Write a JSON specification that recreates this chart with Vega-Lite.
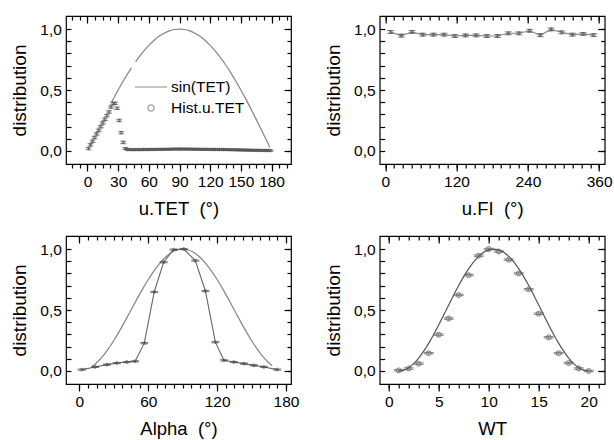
{
  "$schema": "https://vega.github.io/schema/vega-lite/v6.json",
  "padding": {"left": 9, "top": 14, "right": 0, "bottom": 0},
  "columns": 2,
  "bounds": "flush",
  "spacing": {"row": 72, "column": 88.7},
  "datasets": {
    "sin1": [
      {"x": 23.5, "y": 0.399, "seg": 1}, {"x": 28, "y": 0.469, "seg": 1}, {"x": 33, "y": 0.545, "seg": 1}, {"x": 38, "y": 0.616, "seg": 1}, {"x": 43, "y": 0.682, "seg": 1},
      {"x": 47, "y": 0.731, "seg": 2}, {"x": 50, "y": 0.766, "seg": 2}, {"x": 55, "y": 0.819, "seg": 2}, {"x": 60, "y": 0.866, "seg": 2}, {"x": 65, "y": 0.906, "seg": 2},
      {"x": 70, "y": 0.94, "seg": 2}, {"x": 75, "y": 0.966, "seg": 2}, {"x": 80, "y": 0.985, "seg": 2}, {"x": 85, "y": 0.996, "seg": 2}, {"x": 90, "y": 1.0, "seg": 2},
      {"x": 95, "y": 0.996, "seg": 2}, {"x": 100, "y": 0.985, "seg": 2}, {"x": 105, "y": 0.966, "seg": 2}, {"x": 110, "y": 0.94, "seg": 2}, {"x": 115, "y": 0.906, "seg": 2},
      {"x": 120, "y": 0.866, "seg": 2}, {"x": 125, "y": 0.819, "seg": 2}, {"x": 130, "y": 0.766, "seg": 2}, {"x": 135, "y": 0.707, "seg": 2}, {"x": 140, "y": 0.643, "seg": 2},
      {"x": 145, "y": 0.574, "seg": 2}, {"x": 150, "y": 0.5, "seg": 2}, {"x": 155, "y": 0.423, "seg": 2}, {"x": 160, "y": 0.342, "seg": 2}, {"x": 165, "y": 0.259, "seg": 2},
      {"x": 170, "y": 0.174, "seg": 2}, {"x": 175, "y": 0.087, "seg": 2}, {"x": 178.4, "y": 0.028, "seg": 2}
    ],
    "hist1": [
      {"x": 1, "y": 0.02, "e": 0.01}, {"x": 3, "y": 0.05, "e": 0.01}, {"x": 5, "y": 0.08, "e": 0.01}, {"x": 7, "y": 0.11, "e": 0.01}, {"x": 9, "y": 0.14, "e": 0.01},
      {"x": 11, "y": 0.17, "e": 0.01}, {"x": 13, "y": 0.2, "e": 0.01}, {"x": 15, "y": 0.23, "e": 0.01}, {"x": 17, "y": 0.26, "e": 0.01}, {"x": 19, "y": 0.29, "e": 0.01},
      {"x": 21, "y": 0.32, "e": 0.01}, {"x": 23, "y": 0.36, "e": 0.01}, {"x": 25, "y": 0.39, "e": 0.01}, {"x": 27, "y": 0.39, "e": 0.01}, {"x": 29, "y": 0.35, "e": 0.01},
      {"x": 31, "y": 0.25, "e": 0.01}, {"x": 33, "y": 0.15, "e": 0.01}, {"x": 35, "y": 0.07, "e": 0.01}, {"x": 37, "y": 0.02, "e": 0.008},
      {"x": 39, "y": 0.012, "e": 0.006}, {"x": 41, "y": 0.011, "e": 0.006}, {"x": 43, "y": 0.01, "e": 0.006}, {"x": 45, "y": 0.01, "e": 0.006}, {"x": 47, "y": 0.011, "e": 0.006},
      {"x": 49, "y": 0.01, "e": 0.006}, {"x": 51, "y": 0.01, "e": 0.006}, {"x": 53, "y": 0.011, "e": 0.006}, {"x": 55, "y": 0.012, "e": 0.006}, {"x": 57, "y": 0.011, "e": 0.006},
      {"x": 59, "y": 0.012, "e": 0.006}, {"x": 61, "y": 0.012, "e": 0.006}, {"x": 63, "y": 0.013, "e": 0.006}, {"x": 65, "y": 0.012, "e": 0.006}, {"x": 67, "y": 0.013, "e": 0.006},
      {"x": 69, "y": 0.013, "e": 0.006}, {"x": 71, "y": 0.014, "e": 0.006}, {"x": 73, "y": 0.013, "e": 0.006}, {"x": 75, "y": 0.014, "e": 0.006}, {"x": 77, "y": 0.014, "e": 0.006},
      {"x": 79, "y": 0.015, "e": 0.006}, {"x": 81, "y": 0.014, "e": 0.006}, {"x": 83, "y": 0.015, "e": 0.006}, {"x": 85, "y": 0.016, "e": 0.006}, {"x": 87, "y": 0.015, "e": 0.006},
      {"x": 89, "y": 0.016, "e": 0.006}, {"x": 91, "y": 0.016, "e": 0.006}, {"x": 93, "y": 0.015, "e": 0.006}, {"x": 95, "y": 0.016, "e": 0.006}, {"x": 97, "y": 0.015, "e": 0.006},
      {"x": 99, "y": 0.016, "e": 0.006}, {"x": 101, "y": 0.015, "e": 0.006}, {"x": 103, "y": 0.015, "e": 0.006}, {"x": 105, "y": 0.014, "e": 0.006}, {"x": 107, "y": 0.015, "e": 0.006},
      {"x": 109, "y": 0.014, "e": 0.006}, {"x": 111, "y": 0.014, "e": 0.006}, {"x": 113, "y": 0.013, "e": 0.006}, {"x": 115, "y": 0.014, "e": 0.006}, {"x": 117, "y": 0.013, "e": 0.006},
      {"x": 119, "y": 0.013, "e": 0.006}, {"x": 121, "y": 0.012, "e": 0.006}, {"x": 123, "y": 0.013, "e": 0.006}, {"x": 125, "y": 0.012, "e": 0.006}, {"x": 127, "y": 0.012, "e": 0.006},
      {"x": 129, "y": 0.011, "e": 0.006}, {"x": 131, "y": 0.012, "e": 0.006}, {"x": 133, "y": 0.011, "e": 0.006}, {"x": 135, "y": 0.011, "e": 0.006}, {"x": 137, "y": 0.01, "e": 0.006},
      {"x": 139, "y": 0.01, "e": 0.006}, {"x": 141, "y": 0.01, "e": 0.006}, {"x": 143, "y": 0.009, "e": 0.006}, {"x": 145, "y": 0.009, "e": 0.006}, {"x": 147, "y": 0.009, "e": 0.006},
      {"x": 149, "y": 0.008, "e": 0.006}, {"x": 151, "y": 0.008, "e": 0.006}, {"x": 153, "y": 0.008, "e": 0.006}, {"x": 155, "y": 0.007, "e": 0.006}, {"x": 157, "y": 0.007, "e": 0.006},
      {"x": 159, "y": 0.007, "e": 0.006}, {"x": 161, "y": 0.006, "e": 0.006}, {"x": 163, "y": 0.006, "e": 0.006}, {"x": 165, "y": 0.006, "e": 0.006}, {"x": 167, "y": 0.005, "e": 0.006},
      {"x": 169, "y": 0.005, "e": 0.006}, {"x": 171, "y": 0.005, "e": 0.006}, {"x": 173, "y": 0.004, "e": 0.006}, {"x": 175, "y": 0.004, "e": 0.006}, {"x": 177, "y": 0.004, "e": 0.006},
      {"x": 179, "y": 0.003, "e": 0.006}
    ],
    "fi": [
      {"x": 9, "y": 0.976, "e": 0.012}, {"x": 27, "y": 0.946, "e": 0.012}, {"x": 45, "y": 0.976, "e": 0.012}, {"x": 63, "y": 0.954, "e": 0.012}, {"x": 81, "y": 0.954, "e": 0.012},
      {"x": 99, "y": 0.954, "e": 0.012}, {"x": 117, "y": 0.943, "e": 0.012}, {"x": 135, "y": 0.948, "e": 0.012}, {"x": 153, "y": 0.948, "e": 0.012}, {"x": 171, "y": 0.943, "e": 0.012},
      {"x": 189, "y": 0.943, "e": 0.012}, {"x": 207, "y": 0.965, "e": 0.012}, {"x": 225, "y": 0.965, "e": 0.012}, {"x": 243, "y": 0.986, "e": 0.012}, {"x": 261, "y": 0.95, "e": 0.012},
      {"x": 279, "y": 0.997, "e": 0.012}, {"x": 297, "y": 0.973, "e": 0.012}, {"x": 315, "y": 0.954, "e": 0.012}, {"x": 333, "y": 0.96, "e": 0.012}, {"x": 351, "y": 0.95, "e": 0.012}
    ],
    "alpha": [
      {"x": 2, "y": 0.011, "e": 0.005}, {"x": 13.7, "y": 0.033, "e": 0.005}, {"x": 24, "y": 0.052, "e": 0.005}, {"x": 32.6, "y": 0.065, "e": 0.005}, {"x": 41.3, "y": 0.073, "e": 0.005},
      {"x": 48.6, "y": 0.079, "e": 0.005}, {"x": 56.5, "y": 0.228, "e": 0.005}, {"x": 65.2, "y": 0.648, "e": 0.005}, {"x": 73.4, "y": 0.892, "e": 0.005}, {"x": 82, "y": 0.995, "e": 0.005},
      {"x": 91, "y": 1.0, "e": 0.005}, {"x": 101, "y": 0.905, "e": 0.005}, {"x": 109.8, "y": 0.656, "e": 0.005}, {"x": 118.5, "y": 0.236, "e": 0.005}, {"x": 125.9, "y": 0.087, "e": 0.005},
      {"x": 134.6, "y": 0.073, "e": 0.005}, {"x": 143.4, "y": 0.06, "e": 0.005}, {"x": 152, "y": 0.046, "e": 0.005}, {"x": 160.8, "y": 0.033, "e": 0.005}, {"x": 172.5, "y": 0.011, "e": 0.005}
    ],
    "alphacurve": [
      {"x": 11, "y": 0.036}, {"x": 15, "y": 0.067}, {"x": 20, "y": 0.117}, {"x": 25, "y": 0.179}, {"x": 30, "y": 0.25}, {"x": 35, "y": 0.329}, {"x": 40, "y": 0.413},
      {"x": 45, "y": 0.5}, {"x": 50, "y": 0.587}, {"x": 55, "y": 0.671}, {"x": 60, "y": 0.75}, {"x": 65, "y": 0.821}, {"x": 70, "y": 0.883}, {"x": 75, "y": 0.933},
      {"x": 80, "y": 0.97}, {"x": 85, "y": 0.992}, {"x": 90, "y": 1.0}, {"x": 95, "y": 0.992}, {"x": 100, "y": 0.97}, {"x": 105, "y": 0.933}, {"x": 110, "y": 0.883},
      {"x": 115, "y": 0.821}, {"x": 120, "y": 0.75}, {"x": 125, "y": 0.671}, {"x": 130, "y": 0.587}, {"x": 135, "y": 0.5}, {"x": 140, "y": 0.413}, {"x": 145, "y": 0.329},
      {"x": 150, "y": 0.25}, {"x": 155, "y": 0.179}, {"x": 160, "y": 0.117}, {"x": 165, "y": 0.067}, {"x": 168, "y": 0.043}
    ],
    "wt": [
      {"x": 1, "y": 0.005, "e": 0.006}, {"x": 2, "y": 0.02, "e": 0.006}, {"x": 3, "y": 0.06, "e": 0.006}, {"x": 4, "y": 0.146, "e": 0.006}, {"x": 5, "y": 0.298, "e": 0.006},
      {"x": 6, "y": 0.43, "e": 0.006}, {"x": 7, "y": 0.623, "e": 0.006}, {"x": 8, "y": 0.786, "e": 0.006}, {"x": 9, "y": 0.946, "e": 0.006}, {"x": 10, "y": 1.0, "e": 0.006},
      {"x": 11, "y": 0.98, "e": 0.006}, {"x": 12, "y": 0.913, "e": 0.006}, {"x": 13, "y": 0.8, "e": 0.006}, {"x": 14, "y": 0.67, "e": 0.006}, {"x": 15, "y": 0.47, "e": 0.006},
      {"x": 16, "y": 0.276, "e": 0.006}, {"x": 17, "y": 0.146, "e": 0.006}, {"x": 18, "y": 0.065, "e": 0.006}, {"x": 19, "y": 0.02, "e": 0.006}, {"x": 20, "y": 0.0, "e": 0.006}
    ],
    "wtcurve": [
      {"x": 1, "y": 0.0}, {"x": 1.5, "y": 0.007}, {"x": 2, "y": 0.027}, {"x": 2.5, "y": 0.06}, {"x": 3, "y": 0.105}, {"x": 3.5, "y": 0.162}, {"x": 4, "y": 0.226},
      {"x": 4.5, "y": 0.299}, {"x": 5, "y": 0.377}, {"x": 5.5, "y": 0.459}, {"x": 6, "y": 0.541}, {"x": 6.5, "y": 0.623}, {"x": 7, "y": 0.701}, {"x": 7.5, "y": 0.774},
      {"x": 8, "y": 0.839}, {"x": 8.5, "y": 0.895}, {"x": 9, "y": 0.94}, {"x": 9.5, "y": 0.973}, {"x": 10, "y": 0.993}, {"x": 10.5, "y": 1.0}, {"x": 11, "y": 0.993},
      {"x": 11.5, "y": 0.973}, {"x": 12, "y": 0.94}, {"x": 12.5, "y": 0.895}, {"x": 13, "y": 0.839}, {"x": 13.5, "y": 0.774}, {"x": 14, "y": 0.701}, {"x": 14.5, "y": 0.623},
      {"x": 15, "y": 0.541}, {"x": 15.5, "y": 0.459}, {"x": 16, "y": 0.377}, {"x": 16.5, "y": 0.299}, {"x": 17, "y": 0.226}, {"x": 17.5, "y": 0.162}, {"x": 18, "y": 0.105},
      {"x": 18.5, "y": 0.06}, {"x": 19, "y": 0.027}, {"x": 19.5, "y": 0.007}, {"x": 20, "y": 0.0}
    ]
  },
  "concat": [
    {
      "width": 225, "height": 148,
      "layer": [
        {
          "data": {"name": "sin1"},
          "mark": {"type": "line", "color": "#858585", "strokeWidth": 1.2, "interpolate": "monotone"},
          "encoding": {
            "x": {"field": "x", "type": "quantitative", "scale": {"domain": [-21, 199], "nice": false, "zero": false},
              "axis": {"orient": "bottom", "values": [0, 30, 60, 90, 120, 150, 180], "format": "d", "tickSize": 7, "labelPadding": 3, "title": "u.TET\u00a0 (°)", "titlePadding": 10}},
            "y": {"field": "y", "type": "quantitative", "scale": {"domain": [-0.107, 1.107], "nice": false, "zero": false},
              "axis": {"orient": "left", "values": [0, 0.5, 1.0], "ticks": false, "tickSize": 0, "labelExpr": "replace(format(datum.value, '.1f'), '.', ',')", "labelPadding": 4.6, "title": "distribution", "titlePadding": 10.5}},
            "detail": {"field": "seg", "type": "nominal"}
          }
        },
        {
          "data": {"name": "hist1"},
          "mark": {"type": "errorbar", "ticks": true, "size": 6, "thickness": 1, "color": "#555555"},
          "encoding": {
            "x": {"field": "x", "type": "quantitative", "scale": {"domain": [-21, 199], "nice": false, "zero": false}, "axis": null},
            "y": {"field": "y", "type": "quantitative", "scale": {"domain": [-0.107, 1.107], "nice": false, "zero": false}, "axis": null},
            "yError": {"field": "e"}
          }
        },
        {
          "data": {"name": "hist1"},
          "mark": {"type": "point", "filled": false, "size": 200, "color": "#555555", "strokeWidth": 1},
          "encoding": {
            "x": {"field": "x", "type": "quantitative", "scale": {"domain": [-21, 199], "nice": false, "zero": false},
              "axis": {"orient": "bottom", "values": [-15, -7.5, 0, 7.5, 15, 22.5, 30, 37.5, 45, 52.5, 60, 67.5, 75, 82.5, 90, 97.5, 105, 112.5, 120, 127.5, 135, 142.5, 150, 157.5, 165, 172.5, 180, 187.5, 195], "tickSize": 4, "labels": false, "title": null}},
            "y": {"field": "y", "type": "quantitative", "scale": {"domain": [-0.107, 1.107], "nice": false, "zero": false},
              "axis": {"orient": "left", "values": [0, 0.1, 0.2, 0.3, 0.4, 0.5, 0.6, 0.7, 0.8, 0.9, 1.0], "tickSize": -5, "labels": false, "title": null}},
            "shape": {"datum": "Hist.u.TET", "scale": {"domain": ["sin(TET)", "Hist.u.TET"], "range": ["stroke", "M0.19,0A0.19,0.19 0 1,1 -0.19,0A0.19,0.19 0 1,1 0.19,0Z"]},
              "legend": {"orient": "none", "legendX": 68, "legendY": 63, "title": null, "symbolSize": 1024, "symbolStrokeColor": "#858585", "symbolStrokeWidth": 1.3,
                "symbolFillColor": "transparent", "labelFont": "Liberation Sans", "labelFontSize": 15.5, "labelColor": "#000", "labelOffset": 3, "rowPadding": 4, "clipHeight": 16}}
          }
        },
        {
          "data": {"name": "hist1"},
          "mark": {"type": "point", "opacity": 0},
          "encoding": {
            "x": {"field": "x", "type": "quantitative", "scale": {"domain": [-21, 199], "nice": false, "zero": false},
              "axis": {"orient": "top", "values": [0, 30, 60, 90, 120, 150, 180], "tickSize": -7, "labels": false, "title": null}},
            "y": {"field": "y", "type": "quantitative", "scale": {"domain": [-0.107, 1.107], "nice": false, "zero": false},
              "axis": {"orient": "right", "values": [0, 0.5, 1.0], "tickSize": -7, "labels": false, "title": null}}
          }
        },
        {
          "data": {"name": "hist1"},
          "mark": {"type": "point", "opacity": 0},
          "encoding": {
            "x": {"field": "x", "type": "quantitative", "scale": {"domain": [-21, 199], "nice": false, "zero": false},
              "axis": {"orient": "top", "values": [-15, -7.5, 0, 7.5, 15, 22.5, 30, 37.5, 45, 52.5, 60, 67.5, 75, 82.5, 90, 97.5, 105, 112.5, 120, 127.5, 135, 142.5, 150, 157.5, 165, 172.5, 180, 187.5, 195], "tickSize": -4, "labels": false, "title": null}},
            "y": {"field": "y", "type": "quantitative", "scale": {"domain": [-0.107, 1.107], "nice": false, "zero": false},
              "axis": {"orient": "right", "values": [0, 0.1, 0.2, 0.3, 0.4, 0.5, 0.6, 0.7, 0.8, 0.9, 1.0], "tickSize": -4, "labels": false, "title": null}}
          }
        }
      ],
      "resolve": {"axis": {"x": "independent", "y": "independent"}}
    },
    {
      "width": 225, "height": 148,
      "layer": [
        {
          "data": {"name": "fi"},
          "mark": {"type": "line", "color": "#858585", "strokeWidth": 1.1},
          "encoding": {
            "x": {"field": "x", "type": "quantitative", "scale": {"domain": [-9.4, 369.4], "nice": false, "zero": false},
              "axis": {"orient": "bottom", "values": [0, 120, 240, 360], "format": "d", "tickSize": 7, "labelPadding": 3, "title": "u.FI\u00a0 (°)", "titlePadding": 10}},
            "y": {"field": "y", "type": "quantitative", "scale": {"domain": [-0.107, 1.107], "nice": false, "zero": false},
              "axis": {"orient": "left", "values": [0, 0.5, 1.0], "ticks": false, "tickSize": 0, "labelExpr": "replace(format(datum.value, '.1f'), '.', ',')", "labelPadding": 4.6, "title": "distribution", "titlePadding": 10.5}}
          }
        },
        {
          "data": {"name": "fi"},
          "mark": {"type": "errorbar", "ticks": true, "size": 7, "thickness": 1, "color": "#555555"},
          "encoding": {
            "x": {"field": "x", "type": "quantitative", "scale": {"domain": [-9.4, 369.4], "nice": false, "zero": false}, "axis": null},
            "y": {"field": "y", "type": "quantitative", "scale": {"domain": [-0.107, 1.107], "nice": false, "zero": false}, "axis": null},
            "yError": {"field": "e"}
          }
        },
        {
          "data": {"name": "fi"},
          "mark": {"type": "point", "filled": false, "size": 10, "color": "#555555", "strokeWidth": 1},
          "encoding": {
            "x": {"field": "x", "type": "quantitative", "scale": {"domain": [-9.4, 369.4], "nice": false, "zero": false},
              "axis": {"orient": "bottom", "values": [0, 15, 30, 45, 60, 75, 90, 105, 120, 135, 150, 165, 180, 195, 210, 225, 240, 255, 270, 285, 300, 315, 330, 345, 360], "tickSize": 4, "labels": false, "title": null}},
            "y": {"field": "y", "type": "quantitative", "scale": {"domain": [-0.107, 1.107], "nice": false, "zero": false},
              "axis": {"orient": "left", "values": [0, 0.1, 0.2, 0.3, 0.4, 0.5, 0.6, 0.7, 0.8, 0.9, 1.0], "tickSize": -5, "labels": false, "title": null}}
          }
        },
        {
          "data": {"name": "fi"},
          "mark": {"type": "point", "opacity": 0},
          "encoding": {
            "x": {"field": "x", "type": "quantitative", "scale": {"domain": [-9.4, 369.4], "nice": false, "zero": false},
              "axis": {"orient": "top", "values": [0, 120, 240, 360], "tickSize": -7, "labels": false, "title": null}},
            "y": {"field": "y", "type": "quantitative", "scale": {"domain": [-0.107, 1.107], "nice": false, "zero": false},
              "axis": {"orient": "right", "values": [0, 0.5, 1.0], "tickSize": -7, "labels": false, "title": null}}
          }
        },
        {
          "data": {"name": "fi"},
          "mark": {"type": "point", "opacity": 0},
          "encoding": {
            "x": {"field": "x", "type": "quantitative", "scale": {"domain": [-9.4, 369.4], "nice": false, "zero": false},
              "axis": {"orient": "top", "values": [0, 15, 30, 45, 60, 75, 90, 105, 120, 135, 150, 165, 180, 195, 210, 225, 240, 255, 270, 285, 300, 315, 330, 345, 360], "tickSize": -4, "labels": false, "title": null}},
            "y": {"field": "y", "type": "quantitative", "scale": {"domain": [-0.107, 1.107], "nice": false, "zero": false},
              "axis": {"orient": "right", "values": [0, 0.1, 0.2, 0.3, 0.4, 0.5, 0.6, 0.7, 0.8, 0.9, 1.0], "tickSize": -4, "labels": false, "title": null}}
          }
        }
      ],
      "resolve": {"axis": {"x": "independent", "y": "independent"}}
    },
    {
      "width": 225, "height": 148,
      "layer": [
        {
          "data": {"name": "alphacurve"},
          "mark": {"type": "line", "color": "#858585", "strokeWidth": 1.2, "interpolate": "monotone"},
          "encoding": {
            "x": {"field": "x", "type": "quantitative", "scale": {"domain": [-11.7, 184.4], "nice": false, "zero": false},
              "axis": {"orient": "bottom", "values": [0, 60, 120, 180], "format": "d", "tickSize": 7, "labelPadding": 3, "title": "Alpha\u00a0 (°)", "titlePadding": 10}},
            "y": {"field": "y", "type": "quantitative", "scale": {"domain": [-0.107, 1.107], "nice": false, "zero": false},
              "axis": {"orient": "left", "values": [0, 0.5, 1.0], "ticks": false, "tickSize": 0, "labelExpr": "replace(format(datum.value, '.1f'), '.', ',')", "labelPadding": 4.6, "title": "distribution", "titlePadding": 10.5}}
          }
        },
        {
          "data": {"name": "alpha"},
          "mark": {"type": "line", "color": "#666666", "strokeWidth": 1.1},
          "encoding": {
            "x": {"field": "x", "type": "quantitative", "scale": {"domain": [-11.7, 184.4], "nice": false, "zero": false},
              "axis": {"orient": "bottom", "values": [0, 7.5, 15, 22.5, 30, 37.5, 45, 52.5, 60, 67.5, 75, 82.5, 90, 97.5, 105, 112.5, 120, 127.5, 135, 142.5, 150, 157.5, 165, 172.5, 180], "tickSize": 4, "labels": false, "title": null}},
            "y": {"field": "y", "type": "quantitative", "scale": {"domain": [-0.107, 1.107], "nice": false, "zero": false},
              "axis": {"orient": "left", "values": [0, 0.1, 0.2, 0.3, 0.4, 0.5, 0.6, 0.7, 0.8, 0.9, 1.0], "tickSize": -5, "labels": false, "title": null}}
          }
        },
        {
          "data": {"name": "alpha"},
          "mark": {"type": "errorbar", "ticks": true, "size": 8, "thickness": 1, "color": "#444444"},
          "encoding": {
            "x": {"field": "x", "type": "quantitative", "scale": {"domain": [-11.7, 184.4], "nice": false, "zero": false}, "axis": null},
            "y": {"field": "y", "type": "quantitative", "scale": {"domain": [-0.107, 1.107], "nice": false, "zero": false}, "axis": null},
            "yError": {"field": "e"}
          }
        },
        {
          "data": {"name": "alpha"},
          "mark": {"type": "point", "filled": false, "size": 8, "color": "#555555", "strokeWidth": 1},
          "encoding": {
            "x": {"field": "x", "type": "quantitative", "scale": {"domain": [-11.7, 184.4], "nice": false, "zero": false},
              "axis": {"orient": "top", "values": [0, 60, 120, 180], "tickSize": -7, "labels": false, "title": null}},
            "y": {"field": "y", "type": "quantitative", "scale": {"domain": [-0.107, 1.107], "nice": false, "zero": false},
              "axis": {"orient": "right", "values": [0, 0.5, 1.0], "tickSize": -7, "labels": false, "title": null}}
          }
        },
        {
          "data": {"name": "alpha"},
          "mark": {"type": "point", "opacity": 0},
          "encoding": {
            "x": {"field": "x", "type": "quantitative", "scale": {"domain": [-11.7, 184.4], "nice": false, "zero": false},
              "axis": {"orient": "top", "values": [0, 7.5, 15, 22.5, 30, 37.5, 45, 52.5, 60, 67.5, 75, 82.5, 90, 97.5, 105, 112.5, 120, 127.5, 135, 142.5, 150, 157.5, 165, 172.5, 180], "tickSize": -4, "labels": false, "title": null}},
            "y": {"field": "y", "type": "quantitative", "scale": {"domain": [-0.107, 1.107], "nice": false, "zero": false},
              "axis": {"orient": "right", "values": [0, 0.1, 0.2, 0.3, 0.4, 0.5, 0.6, 0.7, 0.8, 0.9, 1.0], "tickSize": -4, "labels": false, "title": null}}
          }
        }
      ],
      "resolve": {"axis": {"x": "independent", "y": "independent"}}
    },
    {
      "width": 225, "height": 148,
      "layer": [
        {
          "data": {"name": "wtcurve"},
          "mark": {"type": "line", "color": "#555555", "strokeWidth": 1.2, "interpolate": "monotone"},
          "encoding": {
            "x": {"field": "x", "type": "quantitative", "scale": {"domain": [-0.9, 21.6], "nice": false, "zero": false},
              "axis": {"orient": "bottom", "values": [0, 5, 10, 15, 20], "format": "d", "tickSize": 7, "labelPadding": 3, "title": "WT", "titlePadding": 10}},
            "y": {"field": "y", "type": "quantitative", "scale": {"domain": [-0.107, 1.107], "nice": false, "zero": false},
              "axis": {"orient": "left", "values": [0, 0.5, 1.0], "ticks": false, "tickSize": 0, "labelExpr": "replace(format(datum.value, '.1f'), '.', ',')", "labelPadding": 4.6, "title": "distribution", "titlePadding": 10.5}}
          }
        },
        {
          "data": {"name": "wt"},
          "mark": {"type": "errorbar", "ticks": true, "size": 10, "thickness": 1, "color": "#555555"},
          "encoding": {
            "x": {"field": "x", "type": "quantitative", "scale": {"domain": [-0.9, 21.6], "nice": false, "zero": false}, "axis": null},
            "y": {"field": "y", "type": "quantitative", "scale": {"domain": [-0.107, 1.107], "nice": false, "zero": false}, "axis": null},
            "yError": {"field": "e"}
          }
        },
        {
          "data": {"name": "wt"},
          "mark": {"type": "point", "filled": false, "size": 22, "color": "#666666", "strokeWidth": 1.2},
          "encoding": {
            "x": {"field": "x", "type": "quantitative", "scale": {"domain": [-0.9, 21.6], "nice": false, "zero": false},
              "axis": {"orient": "bottom", "values": [0, 1, 2, 3, 4, 5, 6, 7, 8, 9, 10, 11, 12, 13, 14, 15, 16, 17, 18, 19, 20, 21], "tickSize": 4, "labels": false, "title": null}},
            "y": {"field": "y", "type": "quantitative", "scale": {"domain": [-0.107, 1.107], "nice": false, "zero": false},
              "axis": {"orient": "left", "values": [0, 0.1, 0.2, 0.3, 0.4, 0.5, 0.6, 0.7, 0.8, 0.9, 1.0], "tickSize": -5, "labels": false, "title": null}}
          }
        },
        {
          "data": {"name": "wt"},
          "mark": {"type": "point", "opacity": 0},
          "encoding": {
            "x": {"field": "x", "type": "quantitative", "scale": {"domain": [-0.9, 21.6], "nice": false, "zero": false},
              "axis": {"orient": "top", "values": [0, 5, 10, 15, 20], "tickSize": -7, "labels": false, "title": null}},
            "y": {"field": "y", "type": "quantitative", "scale": {"domain": [-0.107, 1.107], "nice": false, "zero": false},
              "axis": {"orient": "right", "values": [0, 0.5, 1.0], "tickSize": -7, "labels": false, "title": null}}
          }
        },
        {
          "data": {"name": "wt"},
          "mark": {"type": "point", "opacity": 0},
          "encoding": {
            "x": {"field": "x", "type": "quantitative", "scale": {"domain": [-0.9, 21.6], "nice": false, "zero": false},
              "axis": {"orient": "top", "values": [0, 1, 2, 3, 4, 5, 6, 7, 8, 9, 10, 11, 12, 13, 14, 15, 16, 17, 18, 19, 20, 21], "tickSize": -4, "labels": false, "title": null}},
            "y": {"field": "y", "type": "quantitative", "scale": {"domain": [-0.107, 1.107], "nice": false, "zero": false},
              "axis": {"orient": "right", "values": [0, 0.1, 0.2, 0.3, 0.4, 0.5, 0.6, 0.7, 0.8, 0.9, 1.0], "tickSize": -4, "labels": false, "title": null}}
          }
        }
      ],
      "resolve": {"axis": {"x": "independent", "y": "independent"}}
    }
  ],
  "config": {
    "font": "Liberation Sans",
    "view": {"stroke": "#000000", "strokeWidth": 1.2},
    "axis": {"domain": false, "grid": false, "tickColor": "#000000", "tickWidth": 1.2, "labelFont": "Liberation Sans", "labelFontSize": 15.5, "labelColor": "#000000",
      "titleFont": "Liberation Sans", "titleFontSize": 18.5, "titleFontWeight": "normal", "titleColor": "#000000", "labelFlush": false, "labelOverlap": false, "labelBound": false},
    "axisLeft": {"titleFontSize": 19}
  }
}
